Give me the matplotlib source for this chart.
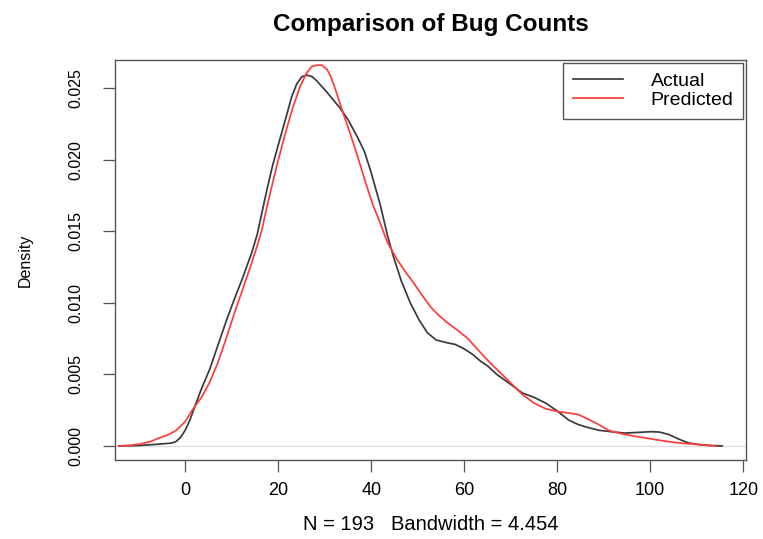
import numpy as np
import matplotlib
matplotlib.use("Agg")
import matplotlib.pyplot as plt

plt.rcParams['font.family'] = ['Liberation Sans', 'DejaVu Sans']

# density estimates
actual_x = [-14.3, -10, -6, -3, -2, -1, 0, 1, 2, 3.5, 5.2, 7, 8.9, 10.5, 12.3,
            14.3, 15.5, 17.5, 18.8, 20.5, 21.8, 22.9, 24.0, 25.1, 26.2, 27.3,
            28.3, 30.5, 33.3, 35, 37.0, 38.5, 39.8, 41.9, 43.5, 44.8, 46.5, 48.4,
            50.3, 52.1, 54, 56.4, 58, 59.9, 61.8, 63.6, 65, 67, 70, 72.5, 75, 77.5,
            80.2, 82.5, 84.5, 86.5, 88.9, 91.5, 94.5, 97.5, 100.3, 102, 104.0, 106,
            108.3, 110.5, 112.6, 115.5]
actual_y = [0.0, 0.00003, 0.00012, 0.0002, 0.0003, 0.0006, 0.0011, 0.0018, 0.0027,
            0.0040, 0.0053, 0.0070, 0.0088, 0.0102, 0.0117, 0.0135, 0.0148, 0.0178,
            0.0196, 0.0216, 0.0231, 0.0244, 0.0253, 0.0258, 0.0259, 0.0258, 0.0255,
            0.0247, 0.0236, 0.0228, 0.0216, 0.0206, 0.0193, 0.0169, 0.0147, 0.0132,
            0.0115, 0.0100, 0.0088, 0.0079, 0.0074, 0.0072, 0.0071, 0.0068, 0.0064,
            0.0059, 0.0056, 0.0050, 0.0043, 0.0037, 0.0034, 0.0030, 0.0024, 0.0018,
            0.0015, 0.0013, 0.0011, 0.0010, 0.0009, 0.00095, 0.0010, 0.00097,
            0.0008, 0.0005, 0.0002, 0.0001, 0.00004, 0.0]

pred_x = [-14.3, -12, -10, -7.5, -5.6, -3.5, -1.9, 0, 1.5, 3.5, 5.2, 7, 8.9, 10.5,
          12.3, 14, 15.4, 16.5, 17.5, 19.7, 21.5, 23.1, 24.7, 26.0, 27.2, 28.3,
          29.4, 30.5, 31.3, 32.2, 33.9, 35.5, 37.0, 38.7, 40.4, 41.9, 43.5, 45.6,
          47.5, 49.1, 51, 52.8, 54.6, 56.4, 58.5, 60.8, 63, 65, 67.5, 70, 72.5, 75,
          77.5, 80.2, 82.5, 84.5, 86.5, 88.9, 91, 93.2, 95.5, 98.2, 101, 104,
          106.5, 109, 111.5, 114]
pred_y = [0.0, 0.00004, 0.00012, 0.0003, 0.00056, 0.0008, 0.0011, 0.0017, 0.0025,
          0.0034, 0.0044, 0.0058, 0.0076, 0.0092, 0.0109, 0.0125, 0.0139, 0.0151,
          0.0166, 0.0196, 0.0218, 0.0236, 0.0251, 0.0260, 0.0265, 0.0266, 0.0266,
          0.0263, 0.0258, 0.0250, 0.0233, 0.0218, 0.0203, 0.0185, 0.0168, 0.0156,
          0.0142, 0.0130, 0.0121, 0.0114, 0.0105, 0.0097, 0.0091, 0.0086, 0.0081,
          0.0075, 0.0067, 0.0060, 0.0052, 0.0044, 0.0036, 0.0030, 0.0026, 0.0024,
          0.0023, 0.0022, 0.0019, 0.0015, 0.0011, 0.0009, 0.00075, 0.0006,
          0.00045, 0.0003, 0.0002, 0.00014, 0.00006, 0.0]

x_ticks = [0, 20, 40, 60, 80, 100, 120]
y_ticks = [0.000, 0.005, 0.010, 0.015, 0.020, 0.025]

fig = plt.figure(figsize=(7.63, 5.39), dpi=100)
ax = fig.add_axes([115 / 763, 1 - 460 / 539, (746 - 115) / 763, 400 / 539])

ax.axhline(0, color='#dddddd', lw=0.9, zorder=1)
ax.plot(actual_x, actual_y, color='#3a3a3a', lw=1.25, label='Actual', zorder=3,
        solid_joinstyle='round')
ax.plot(pred_x, pred_y, color='#ff3b3b', lw=1.25, label='Predicted', zorder=3,
        solid_joinstyle='round')

ax.set_xlim(-15.1, 120.6)
ax.set_ylim(-0.00098, 0.02696)
ax.set_xticks(x_ticks)
ax.set_yticks(y_ticks)
ax.set_xticklabels([str(v) for v in x_ticks])
ax.set_yticklabels(['%.3f' % v for v in y_ticks], rotation=90, va='center')
ax.tick_params(direction='out', length=8.5, width=0.9, color='#555555')
ax.tick_params(axis='x', labelsize=13, pad=7)
ax.tick_params(axis='y', labelsize=11.5, pad=14)
for s in ax.spines.values():
    s.set_color('#555555')
    s.set_linewidth(1.0)

ax.set_title('Comparison of Bug Counts', fontsize=17.5, fontweight='bold', pad=21)
ax.set_xlabel('N = 193   Bandwidth = 4.454', fontsize=14.5, labelpad=12)
ax.set_ylabel('Density', fontsize=11.5, labelpad=26)

leg = ax.legend(loc='upper right', fontsize=14, fancybox=False, borderaxespad=0.15,
                handlelength=2.6, handletextpad=1.4, borderpad=0.5,
                labelspacing=0.05, framealpha=1)
leg.get_frame().set_edgecolor('#555555')
leg.get_frame().set_linewidth(1.0)

fig.savefig('out.png', dpi=100)
